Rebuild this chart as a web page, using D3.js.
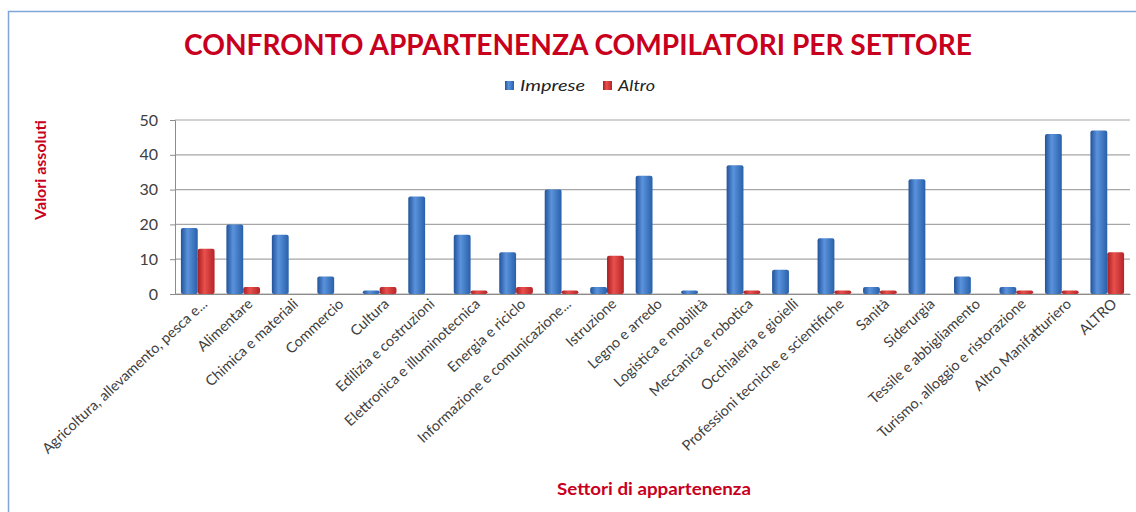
<!DOCTYPE html>
<html>
<head>
<meta charset="utf-8">
<style>
  body { margin: 0; background: #fff; }
  svg { display: block; font-family: Lato, "Open Sans", sans-serif; }
</style>
</head>
<body>
<div id="chart"></div>
<script src="https://cdn.jsdelivr.net/npm/d3@7"></script>
<script>
// chart data
var settori = [
  "Agricoltura, allevamento, pesca e...", "Alimentare", "Chimica e materiali", "Commercio",
  "Cultura", "Edilizia e costruzioni", "Elettronica e illuminotecnica", "Energia e riciclo",
  "Informazione e comunicazione...", "Istruzione", "Legno e arredo", "Logistica e mobilità",
  "Meccanica e robotica", "Occhialeria e gioielli", "Professioni tecniche e scientifiche",
  "Sanità", "Siderurgia", "Tessile e abbigliamento", "Turismo, alloggio e ristorazione",
  "Altro Manifatturiero", "ALTRO"
];
var imprese = [19, 20, 17, 5, 1, 28, 17, 12, 30, 2, 34, 1, 37, 7, 16, 2, 33, 5, 2, 46, 47];
var altro   = [13, 2, 0, 0, 2, 0, 1, 2, 1, 11, 0, 0, 1, 0, 1, 1, 0, 0, 1, 1, 12];
var serie = ["Imprese", "Altro"];
var yTicks = [0, 10, 20, 30, 40, 50];

function drawChart() {
  var W = 1136, H = 512;
  var plotLeft = 175, plotRight = 1130, plotTop = 120, plotBottom = 294;

  var svg = d3.select("#chart").append("svg")
      .attr("width", W)
      .attr("height", H);

  // gradients for cylinder-like bars
  var defs = svg.append("defs");
  var colors = {
    Imprese: ["#22539a", "#5a93dc", "#2860aa"],
    Altro:   ["#a81e22", "#e8504c", "#b52428"]
  };
  serie.forEach(function(s) {
    var g = defs.append("linearGradient").attr("id", "grad-" + s)
        .attr("x1", "0%").attr("x2", "100%").attr("y1", "0%").attr("y2", "0%");
    g.append("stop").attr("offset", "0%").attr("stop-color", colors[s][0]);
    g.append("stop").attr("offset", "40%").attr("stop-color", colors[s][1]);
    g.append("stop").attr("offset", "100%").attr("stop-color", colors[s][2]);
  });

  // frame
  svg.append("rect")
      .attr("x", 8.5).attr("y", 11.5)
      .attr("width", W + 10).attr("height", H + 10)
      .attr("fill", "none")
      .attr("stroke", "#7ea6d8")
      .attr("stroke-width", 1.5);

  // title
  svg.append("text")
      .attr("x", 578).attr("y", 55)
      .attr("text-anchor", "middle")
      .attr("fill", "#c8001e")
      .style("font-size", "28px")
      .style("font-weight", "bold")
      .attr("textLength", 788)
      .attr("lengthAdjust", "spacingAndGlyphs")
      .text("CONFRONTO APPARTENENZA COMPILATORI PER SETTORE");

  // legend
  var legendX = [505, 603], legendW = [65, 37];
  var legend = svg.append("g").selectAll("g")
      .data(serie)
      .enter().append("g")
      .attr("transform", function(d, i) { return "translate(" + legendX[i] + ",86)"; });
  legend.append("rect")
      .attr("x", 0).attr("y", -5)
      .attr("width", 9).attr("height", 9)
      .attr("fill", function(d) { return "url(#grad-" + d + ")"; });
  legend.append("text")
      .attr("x", 15).attr("dy", "0.35em")
      .attr("fill", "#222")
      .style("font-size", "15px")
      .style("font-style", "italic")
      .attr("textLength", function(d, i) { return legendW[i]; })
      .attr("lengthAdjust", "spacingAndGlyphs")
      .text(function(d) { return d; });

  // scales
  var x0 = d3.scaleBand()
      .domain(settori)
      .range([plotLeft, plotRight])
      .paddingInner(0.26)
      .paddingOuter(0.13);
  var x1 = d3.scaleBand()
      .domain(serie)
      .range([0, x0.bandwidth()]);
  var y = d3.scaleLinear()
      .domain([0, 50])
      .range([plotBottom, plotTop]);

  // gridlines
  svg.append("g").selectAll("line")
      .data(yTicks)
      .enter().append("line")
      .attr("x1", plotLeft).attr("x2", plotRight)
      .attr("y1", function(d) { return y(d); })
      .attr("y2", function(d) { return y(d); })
      .attr("stroke", "#a6a6a6")
      .attr("stroke-width", 1.2);

  // y axis
  var yAxis = svg.append("g")
      .attr("transform", "translate(" + plotLeft + ",0)")
      .call(d3.axisLeft(y).tickValues(yTicks).tickSize(5).tickPadding(12));
  yAxis.select(".domain").attr("stroke", "#8c8c8c");
  yAxis.selectAll(".tick line").attr("stroke", "#8c8c8c");
  yAxis.selectAll(".tick text")
      .attr("fill", "#404040")
      .style("font-size", "16px")
      .style("font-family", "Lato, sans-serif");

  // x axis
  var xAxis = svg.append("g")
      .attr("transform", "translate(0," + plotBottom + ")")
      .call(d3.axisBottom(x0).tickSize(0).tickPadding(8));
  xAxis.select(".domain").attr("stroke", "#8c8c8c");
  xAxis.selectAll(".tick text")
      .attr("fill", "#404040")
      .style("font-size", "14.5px")
      .style("font-family", "Lato, sans-serif")
      .attr("text-anchor", "end")
      .attr("dy", "0.3em")
      .attr("transform", "translate(2,2) rotate(-43)");

  // bars
  var rows = settori.map(function(s, i) { return { settore: s, Imprese: imprese[i], Altro: altro[i] }; });
  svg.append("g").selectAll("g")
      .data(rows)
      .enter().append("g")
      .attr("transform", function(d) { return "translate(" + x0(d.settore) + ",0)"; })
    .selectAll("rect")
      .data(function(d) { return serie.map(function(k) { return { key: k, value: d[k] }; }); })
      .enter().append("rect")
      .attr("x", function(d) { return x1(d.key); })
      .attr("y", function(d) { return y(d.value); })
      .attr("width", x1.bandwidth())
      .attr("height", function(d) { return y(0) - y(d.value); })
      .attr("rx", 2)
      .attr("fill", function(d) { return "url(#grad-" + d.key + ")"; });

  // axis titles
  svg.append("text")
      .attr("transform", "translate(46,170) rotate(-90)")
      .attr("text-anchor", "middle")
      .attr("fill", "#c8001e")
      .style("font-size", "16px")
      .style("font-weight", "bold")
      .text("Valori assoluti");

  svg.append("text")
      .attr("x", 654).attr("y", 495)
      .attr("text-anchor", "middle")
      .attr("fill", "#c8001e")
      .style("font-size", "17px")
      .style("font-weight", "bold")
      .attr("textLength", 194)
      .attr("lengthAdjust", "spacingAndGlyphs")
      .text("Settori di appartenenza");
}

drawChart();
</script>
</body>
</html>
